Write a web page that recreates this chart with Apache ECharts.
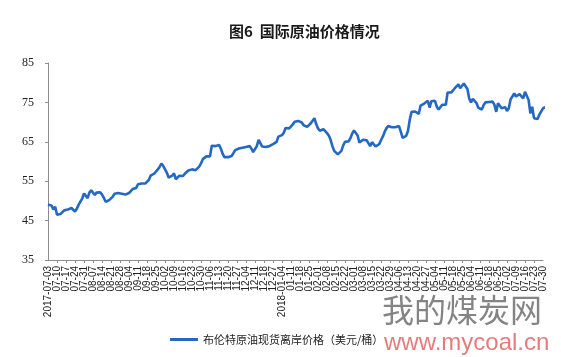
<!DOCTYPE html>
<html>
<head>
<meta charset="utf-8">
<script src="https://cdn.jsdelivr.net/npm/echarts@6/dist/echarts.min.js"></script>
<style>
html,body{margin:0;padding:0;background:#fff;}
#chart{width:561px;height:357px;}
</style>
</head>
<body>
<div id="chart"></div>
<script>
// Trading-day calendar (Brent spot, weekdays minus market holidays)
const startDate = '2017-07-03';
const endDate = '2018-07-30';
const holidays = ['2017-12-25', '2017-12-26', '2018-01-01', '2018-03-30', '2018-05-28'];

// Brent spot FOB price, USD/barrel, one value per trading day
const brentPrice = [
  49.1, 49.1, 48.8, 47.8, 48.5, 46.5, 46.6, 46.7, 46.9, 47.6,
  47.7, 47.8, 47.8, 48.2, 48.5, 47.3, 48.0, 49.0, 49.8, 50.6,
  51.9, 51.5, 50.7, 52.1, 52.7, 52.4, 51.5, 52.1, 52.3, 52.2,
  51.6, 50.8, 49.8, 49.7, 50.2, 50.5, 51.1, 51.8, 52.1, 52.0,
  51.8, 51.8, 51.7, 51.6, 51.5, 52.0, 52.4, 53.0, 52.8, 53.3,
  54.2, 54.5, 54.4, 54.5, 54.4, 54.9, 55.3, 56.4, 56.2, 56.9,
  57.4, 58.0, 58.6, 59.5, 58.9, 58.4, 57.2, 55.9, 55.8, 56.4,
  57.0, 55.5, 55.9, 56.4, 56.6, 56.3, 56.9, 57.4, 57.7, 57.9,
  58.0, 57.9, 57.8, 58.2, 58.7, 59.5, 60.6, 61.1, 61.3, 61.0,
  61.3, 64.0, 64.3, 63.9, 64.4, 64.2, 63.3, 62.0, 61.1, 61.2,
  61.1, 61.1, 61.4, 62.1, 62.9, 63.1, 63.3, 63.3, 63.5, 63.5,
  63.7, 64.1, 63.9, 63.3, 62.4, 62.4, 63.9, 65.5, 65.0, 63.8,
  63.6, 63.7, 64.0, 63.9, 63.8, 64.4, 64.6, 65.0, 66.3, 66.7,
  66.7, 67.3, 68.5, 68.3, 68.4, 68.7, 69.4, 70.1, 69.9, 70.3,
  69.9, 69.9, 69.2, 69.1, 68.8, 68.6, 69.7, 70.1, 71.0, 69.5,
  68.4, 67.8, 67.8, 68.2, 68.0, 67.2, 66.6, 65.5, 63.9, 62.7,
  62.2, 61.8, 62.1, 62.7, 64.1, 65.0, 64.9, 65.1, 65.9, 67.1,
  67.9, 67.7, 66.6, 64.8, 64.4, 65.5, 65.6, 65.4, 64.9, 63.9,
  64.9, 64.4, 63.8, 63.7, 64.4, 65.4, 66.3, 67.5, 68.4, 69.0,
  68.9, 68.7, 68.4, 68.7, 69.0, 69.0, 67.6, 66.0, 66.2, 66.5,
  67.8, 70.7, 72.6, 72.1, 72.7, 72.7, 72.1, 74.2, 74.7, 74.7,
  74.6, 75.4, 73.7, 75.3, 75.7, 75.4, 73.9, 73.2, 73.7, 74.4,
  74.6, 74.4, 77.5, 77.6, 77.5, 78.0, 78.6, 78.6, 79.6, 78.6,
  78.7, 79.8, 79.6, 78.4, 76.0, 75.0, 75.9, 76.3, 74.9, 73.7,
  73.2, 73.2, 74.3, 75.0, 74.8, 75.1, 74.9, 75.2, 74.4, 72.6,
  74.8, 74.6, 73.5, 73.0, 73.8, 72.8, 73.5, 75.8, 76.5, 77.3,
  76.5, 76.7, 77.1, 76.6, 76.0, 77.7, 77.6, 75.6, 72.2, 73.9,
  71.0, 70.5, 70.8, 71.9, 72.4, 73.5, 73.6, 73.9, 74.4, 74.8,
  75.1
];

const titleText = '图6  国际原油价格情况';
const seriesName = '布伦特原油现货离岸价格（美元/桶）';
const yMin = 35, yMax = 85, yStep = 10;
const labelEvery = 5;

// build the trading-day category list
function pad(n) { return (n < 10 ? '0' : '') + n; }
const tradingDays = [];
(function () {
  const d = new Date(startDate + 'T00:00:00Z');
  const end = new Date(endDate + 'T00:00:00Z');
  while (d <= end) {
    const s = d.getUTCFullYear() + '-' + pad(d.getUTCMonth() + 1) + '-' + pad(d.getUTCDate());
    const wd = d.getUTCDay();
    if (wd !== 0 && wd !== 6 && holidays.indexOf(s) < 0) tradingDays.push(s);
    d.setUTCDate(d.getUTCDate() + 1);
  }
})();
const lastIdx = tradingDays.length - 1;

function fmtDate(v, idx) {
  if (idx === 0) return v;
  const prev = tradingDays[idx - labelEvery];
  if (prev && prev.slice(0, 4) !== v.slice(0, 4)) return v;
  return v.slice(5);
}

const labelStyle = {
  rotate: 90,
  margin: 6,
  fontFamily: 'Liberation Sans',
  fontSize: 10,
  color: '#222',
  formatter: fmtDate
};

const chart = echarts.init(document.getElementById('chart'), null, { renderer: 'canvas' });
chart.setOption({
  animation: false,
  backgroundColor: '#ffffff',
  title: {
    text: titleText,
    left: 224,
    top: 19,
    textStyle: {
      fontFamily: 'Noto Sans CJK SC',
      fontSize: 15,
      fontWeight: 'bold',
      color: '#1a1a1a'
    }
  },
  grid: { left: 48, right: 18, top: 63, bottom: 97, containLabel: false },
  legend: {
    data: [seriesName],
    left: 165,
    top: 329,
    icon: 'rect',
    itemWidth: 28,
    itemHeight: 3,
    itemGap: 6,
    textStyle: { fontFamily: 'Noto Sans CJK SC', fontSize: 11, color: '#222' }
  },
  xAxis: [
    {
      type: 'category',
      data: tradingDays,
      boundaryGap: false,
      position: 'bottom',
      axisLine: { lineStyle: { color: '#8c8c8c', width: 1 } },
      axisTick: { interval: labelEvery - 1, length: 3, lineStyle: { color: '#8c8c8c' } },
      axisLabel: Object.assign({}, labelStyle, {
        interval: labelEvery - 1,
        showMinLabel: false,
        showMaxLabel: false
      }),
      splitLine: { show: false }
    },
    {
      type: 'category',
      data: tradingDays,
      boundaryGap: false,
      position: 'bottom',
      offset: 0,
      axisLine: { show: false },
      axisTick: { show: false },
      axisLabel: Object.assign({}, labelStyle, {
        interval: function (idx) { return idx === 0 || idx === lastIdx; },
        showMinLabel: true,
        showMaxLabel: true
      }),
      splitLine: { show: false }
    }
  ],
  yAxis: {
    type: 'value',
    min: yMin,
    max: yMax,
    interval: yStep,
    axisLine: { show: true, lineStyle: { color: '#8c8c8c', width: 1 } },
    axisTick: { show: true, length: 3, lineStyle: { color: '#8c8c8c' } },
    axisLabel: {
      margin: 14,
      fontFamily: 'Liberation Serif',
      fontSize: 12,
      color: '#222'
    },
    splitLine: { show: false }
  },
  series: [{
    name: seriesName,
    type: 'line',
    xAxisIndex: 0,
    data: brentPrice,
    symbol: 'none',
    lineStyle: { color: '#2468c4', width: 2.6 },
    itemStyle: { color: '#2468c4' }
  }],
  graphic: [
    {
      type: 'text',
      left: 382,
      top: 294,
      silent: true,
      style: {
        text: '我的煤炭网',
        fontFamily: 'Noto Sans CJK SC',
        fontSize: 32,
        fill: 'rgba(110,110,110,0.85)'
      }
    },
    {
      type: 'text',
      left: 384,
      top: 331,
      silent: true,
      style: {
        text: 'www.mycoal.cn',
        fontFamily: 'Liberation Sans',
        fontSize: 24,
        fill: 'rgba(220,80,80,0.75)'
      }
    }
  ]
});
</script>
</body>
</html>
